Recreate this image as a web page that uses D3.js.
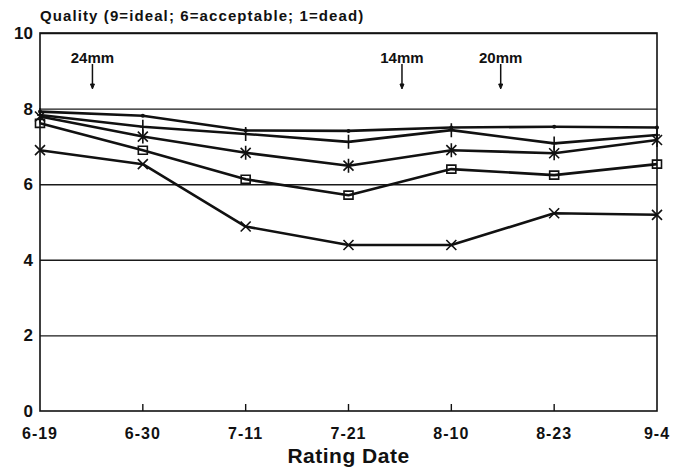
<!DOCTYPE html>
<html lang="en">
<head>
<meta charset="utf-8">
<title>Quality by Rating Date</title>
<script src="https://cdn.jsdelivr.net/npm/d3@7"></script>
<style>
  html, body { margin: 0; padding: 0; background: #fff; }
  text { font-family: "Liberation Sans", Arial, sans-serif; font-weight: bold; fill: #111; }
  .grid line { stroke: #1a1a1a; stroke-width: 1.4px; }
  .grid path { display: none; }
  .series { fill: none; stroke: #111; stroke-width: 2.6px; stroke-linejoin: round; }
  .mark { fill: none; stroke: #111; stroke-width: 1.6px; }
</style>
</head>
<body>
<script>
// rating dates and quality values
var dates = ["6-19", "6-30", "7-11", "7-21", "8-10", "8-23", "9-4"];

var dotSeries   = [7.92, 7.81, 7.42, 7.41, 7.50, 7.52, 7.50];
var plusSeries  = [7.83, 7.52, 7.33, 7.12, 7.43, 7.08, 7.30];
var starSeries  = [7.79, 7.26, 6.83, 6.49, 6.90, 6.82, 7.17];
var boxSeries   = [7.61, 6.90, 6.13, 5.71, 6.40, 6.24, 6.53];
var crossSeries = [6.90, 6.53, 4.88, 4.39, 4.39, 5.23, 5.19];

var yTicks = [0, 2, 4, 6, 8, 10];

// mowing height notes, placed between rating dates (index position)
var noteLabels = ["24mm", "14mm", "20mm"];
var notePos = [0.51, 3.52, 4.48];

var W = 674, H = 468;
var plotL = 40, plotR = 657, plotT = 33, plotB = 411;

var svg = d3.select("body").append("svg").attr("width", W).attr("height", H);

var x = d3.scalePoint().domain(dates).range([plotL, plotR]);
var xi = d3.scaleLinear().domain([0, dates.length - 1]).range([plotL, plotR]);
var y = d3.scaleLinear().domain([0, 10]).range([plotB, plotT]);

// horizontal grid lines
svg.append("g")
  .attr("class", "grid")
  .attr("transform", "translate(" + plotL + ",0)")
  .call(d3.axisLeft(y).tickValues(yTicks.filter(function(t){ return t > 0; })).tickSize(-(plotR - plotL)).tickFormat(""));

// frame
svg.append("rect")
  .attr("x", plotL).attr("y", plotT)
  .attr("width", plotR - plotL).attr("height", plotB - plotT)
  .attr("fill", "none").attr("stroke", "#111").attr("stroke-width", 1.6);

// y labels
svg.append("g").selectAll("text")
  .data(yTicks)
  .enter().append("text")
  .attr("x", plotL - 7)
  .attr("y", function(d){ return y(d) + 6; })
  .attr("text-anchor", "end")
  .attr("font-size", 17)
  .text(function(d){ return d; });

// x ticks, pointing up into the plot
svg.append("g").selectAll("line")
  .data(dates.slice(1, -1))
  .enter().append("line")
  .attr("x1", function(d){ return x(d); })
  .attr("x2", function(d){ return x(d); })
  .attr("y1", plotB).attr("y2", plotB - 7)
  .attr("stroke", "#111").attr("stroke-width", 1.4);

svg.append("g").selectAll("text")
  .data(dates)
  .enter().append("text")
  .attr("x", function(d){ return x(d); })
  .attr("y", 439)
  .attr("text-anchor", "middle")
  .attr("font-size", 16)
  .attr("letter-spacing", 1)
  .text(function(d){ return d; });

svg.append("text")
  .attr("x", (plotL + plotR) / 2).attr("y", 463)
  .attr("text-anchor", "middle")
  .attr("font-size", 21)
  .attr("letter-spacing", 0.5)
  .text("Rating Date");

svg.append("text")
  .attr("x", plotL).attr("y", 21)
  .attr("font-size", 15)
  .attr("letter-spacing", 1.1)
  .text("Quality (9=ideal; 6=acceptable; 1=dead)");

// notes with arrows
noteLabels.forEach(function(lab, i) {
  var nx = xi(notePos[i]);
  svg.append("text")
    .attr("x", nx).attr("y", 63)
    .attr("text-anchor", "middle")
    .attr("font-size", 15)
    .text(lab);
  svg.append("line")
    .attr("x1", nx).attr("x2", nx).attr("y1", 64).attr("y2", 86)
    .attr("stroke", "#111").attr("stroke-width", 1.5);
  svg.append("path")
    .attr("d", "M" + (nx - 2) + ",84 L" + nx + ",89 L" + (nx + 2) + ",84 Z")
    .attr("fill", "#111").attr("stroke", "#111").attr("stroke-width", 1);
});

// series lines
var line = d3.line()
  .x(function(d, i){ return x(dates[i]); })
  .y(function(d){ return y(d); });

var allSeries = [
  { vals: dotSeries, mark: "dot" },
  { vals: plusSeries, mark: "plus" },
  { vals: starSeries, mark: "star" },
  { vals: boxSeries, mark: "box" },
  { vals: crossSeries, mark: "cross" }
];

allSeries.forEach(function(s) {
  svg.append("path").attr("class", "series").attr("d", line(s.vals));
});

function markPath(type, cx, cy) {
  var r;
  if (type === "plus") {
    return "M" + (cx - 3) + "," + cy + "H" + (cx + 3) + "M" + cx + "," + (cy - 7) + "V" + (cy + 7);
  }
  if (type === "cross") {
    r = 5;
    return "M" + (cx - r) + "," + (cy - r) + "L" + (cx + r) + "," + (cy + r) +
           "M" + (cx - r) + "," + (cy + r) + "L" + (cx + r) + "," + (cy - r);
  }
  if (type === "star") {
    r = 5;
    return "M" + (cx - r) + "," + (cy - r) + "L" + (cx + r) + "," + (cy + r) +
           "M" + (cx - r) + "," + (cy + r) + "L" + (cx + r) + "," + (cy - r) +
           "M" + cx + "," + (cy - 7) + "V" + (cy + 7);
  }
  if (type === "box") {
    return "M" + (cx - 4.5) + "," + (cy - 4) + "h9v8h-9Z";
  }
  return "";
}

allSeries.forEach(function(s) {
  var g = svg.append("g");
  s.vals.forEach(function(v, i) {
    var cx = x(dates[i]), cy = y(v);
    if (s.mark === "dot") {
      g.append("circle").attr("cx", cx).attr("cy", cy).attr("r", 2).attr("fill", "#111");
    } else {
      g.append("path").attr("class", "mark").attr("d", markPath(s.mark, cx, cy))
        .attr("fill", s.mark === "box" ? "#fff" : "none");
    }
  });
});
</script>
</body>
</html>
